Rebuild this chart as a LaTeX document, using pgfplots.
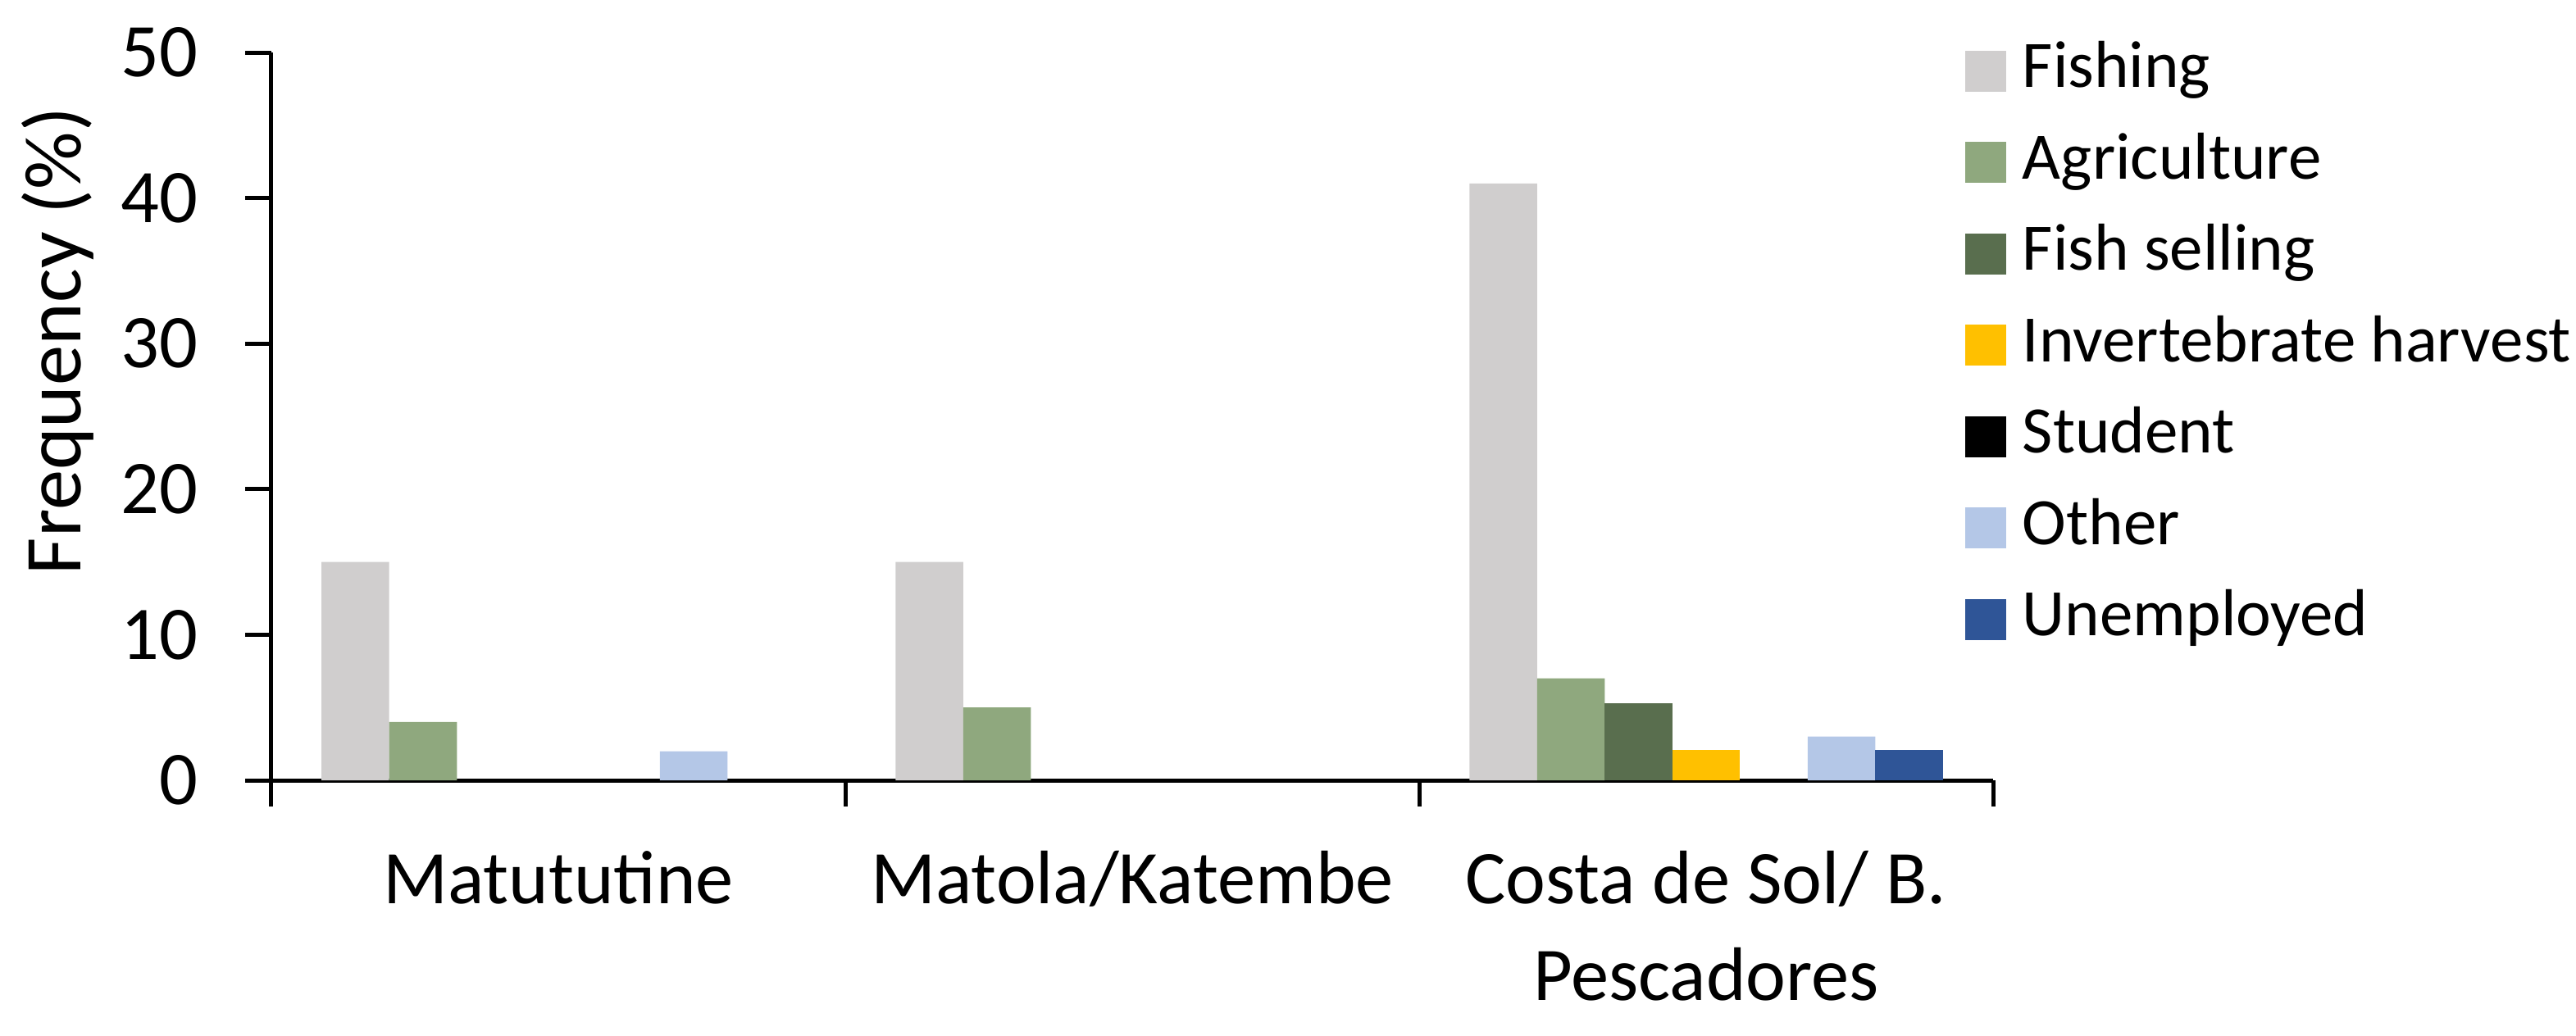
\documentclass[border=0pt]{standalone}
\usepackage{fontspec}
\setmainfont{Carlito}
\usepackage{pgfplots}
\pgfplotsset{compat=1.18}

\definecolor{cFishing}{HTML}{D0CECE}
\definecolor{cAgri}{HTML}{8FA87E}
\definecolor{cSelling}{HTML}{596E4E}
\definecolor{cInvert}{HTML}{FFC000}
\definecolor{cStudent}{HTML}{000000}
\definecolor{cOther}{HTML}{B4C7E7}
\definecolor{cUnemp}{HTML}{2F5597}

\pgfplotsset{
  bstyle/.style={fill=#1, draw=none,
    legend image code/.code={\fill[fill=#1] (0pt,-5pt) rectangle (10pt,5pt);}},
}

\begin{document}
\begin{tikzpicture}
\useasboundingbox (0,0) rectangle (628.4pt,252.6pt);
\begin{axis}[
    at={(66.2pt,62.2pt)}, anchor=south west,
    scale only axis,
    width=420pt, height=177.6pt,
    ybar=0pt, bar width=16.5pt,
    xmin=-0.5, xmax=2.5,
    ymin=0, ymax=50,
    ytick={0,10,20,30,40,50},
    xtick={-0.5,0.5,1.5,2.5},
    xticklabels={,,,},
    extra x ticks={0,1,2},
    extra x tick labels={\rule{0pt}{15pt}Matututine, \rule{0pt}{15pt}Matola/Katembe,
      {\rule{0pt}{15pt}Costa de Sol/ B.\\Pescadores}},
    extra x tick style={major tick length=0pt,
      xticklabel style={align=center, anchor=north, inner sep=0pt, yshift=-14.8pt,
        font=\fontsize{18.5pt}{23.6pt}\selectfont}},
    axis x line=bottom, axis y line=left,
    axis line style={-, line width=1pt, black},
    tick align=outside,
    major tick length=6.3pt,
    tick style={line width=1pt, black},
    /pgf/number format/assume math mode=true,
    yticklabel style={font=\fontsize{18.5pt}{22pt}\selectfont, xshift=-8.1pt},
    ylabel={Frequency (\%)},
    ylabel style={at={(axis description cs:-0.1105,0.6036)}, anchor=base,
      font=\fontsize{19.7pt}{23pt}\selectfont},
    legend style={at={(axis description cs:0.9833,1.018)}, anchor=north west,
      draw=none, fill=none, inner sep=0pt, row sep=7.3pt, column sep=4pt,
      font=\fontsize{16.2pt}{19pt}\selectfont,
      nodes={inner sep=0pt, text height=11.5pt, text depth=3.5pt}},
    legend cell align=left,
    clip=false,
]
\addplot[bstyle=cFishing] coordinates {(0,15) (1,15) (2,41)};
\addplot[bstyle=cAgri] coordinates {(0,4) (1,5) (2,7)};
\addplot[bstyle=cSelling] coordinates {(2,5.3)};
\addplot[bstyle=cInvert] coordinates {(2,2.1)};
% Student: 0 everywhere, so only its legend square is visible
\addplot[fill=none, draw=none,
  legend image code/.code={\fill[fill=cStudent] (0pt,-5pt) rectangle (10pt,5pt);}]
  coordinates {(0,0) (1,0) (2,0)};
\addplot[bstyle=cOther] coordinates {(0,2) (2,3)};
\addplot[bstyle=cUnemp] coordinates {(2,2.1)};
\legend{Fishing, Agriculture, Fish selling, Invertebrate harvest, Student, Other, Unemployed}
\end{axis}
\end{tikzpicture}
\end{document}
